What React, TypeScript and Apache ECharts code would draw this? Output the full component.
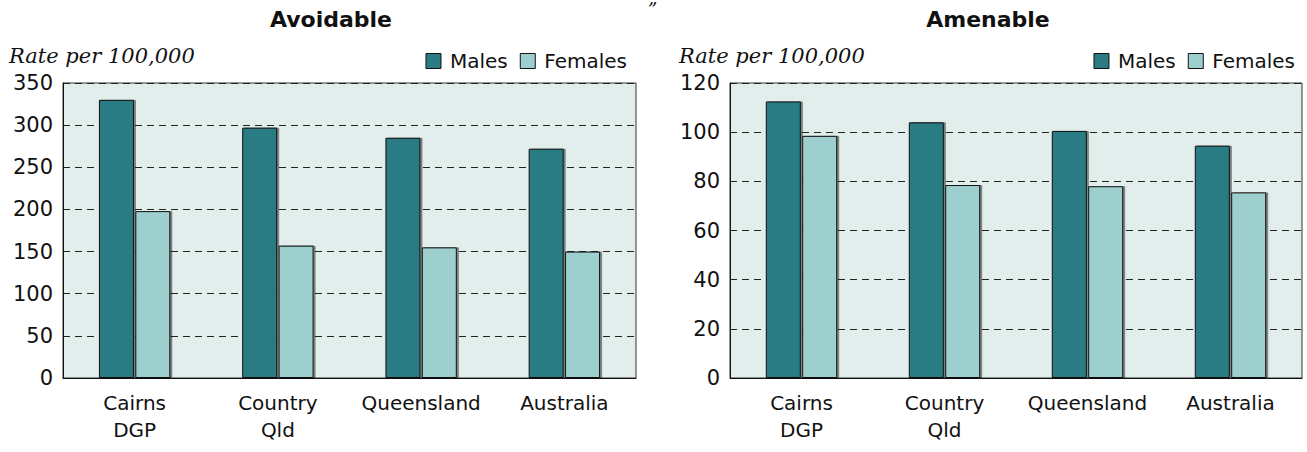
import React, { useEffect, useRef } from "react";
import * as echarts from "echarts";

const categories = ["Cairns\nDGP", "Country\nQld", "Queensland", "Australia"];
const avoidableMales = [330, 297, 285, 272];
const avoidableFemales = [198, 157, 155, 150];
const amenableMales = [112.5, 104, 100.5, 94.5];
const amenableFemales = [98.5, 78.5, 78, 75.5];
const seriesNames = ["Males", "Females"];
const panelTitles = ["Avoidable", "Amenable"];
const yLabel = "Rate per 100,000";

const MALE = "#2a7b84";
const FEMALE = "#9ecfcf";
const BG = "#e1eeeb";
const FONT = "DejaVu Sans";

export default function App() {
  const ref = useRef<HTMLDivElement>(null);
  useEffect(() => {
    if (!ref.current) return;
    const chart = echarts.init(ref.current, null, { renderer: "svg" });
    const grids = [
      { left: 63, top: 83, width: 573, height: 295 },
      { left: 730, top: 83, width: 572, height: 295 },
    ];
    const yAxes = [
      { max: 350, interval: 50 },
      { max: 120, interval: 20 },
    ];
    const data = [
      [avoidableMales, avoidableFemales],
      [amenableMales, amenableFemales],
    ];
    const barStyle = (c: string) => ({
      color: c,
      borderColor: "#111",
      borderWidth: 1,
      shadowColor: "rgba(0,0,0,0.45)",
      shadowOffsetX: 2,
      shadowOffsetY: 0,
      shadowBlur: 0,
    });
    const series: any[] = [];
    data.forEach((d, gi) => {
      d.forEach((vals, si) => {
        series.push({
          type: "bar",
          name: seriesNames[si],
          xAxisIndex: gi,
          yAxisIndex: gi,
          data: vals,
          barWidth: 35,
          barGap: "4%",
          itemStyle: barStyle(si === 0 ? MALE : FEMALE),
        });
      });
    });
    const legendBase = {
      data: seriesNames.map((n, i) => ({
        name: n,
        itemStyle: { color: i === 0 ? MALE : FEMALE, borderColor: "#111", borderWidth: 1 },
      })),
      itemWidth: 15,
      itemHeight: 15,
      itemGap: 12,
      icon: "rect",
      textStyle: { fontFamily: FONT, fontSize: 20, color: "#111", padding: [0, 0, 0, 4] },
      top: 46,
    };
    const titleStyle = { fontFamily: FONT, fontWeight: "bold", fontSize: 22, color: "#111" };
    chart.setOption({
      animation: false,
      textStyle: { fontFamily: FONT },
      title: [
        { text: panelTitles[0], left: 326, textAlign: "center", top: 3, textStyle: titleStyle },
        { text: panelTitles[1], left: 983, textAlign: "center", top: 3, textStyle: titleStyle },
      ],
      legend: [
        { ...legendBase, right: 675 },
        { ...legendBase, right: 7 },
      ],
      graphic: [
        { type: "text", left: 9, top: 45, style: { text: yLabel, font: `italic 21px "DejaVu Serif"`, fill: "#111" } },
        { type: "text", left: 679, top: 45, style: { text: yLabel, font: `italic 21px "DejaVu Serif"`, fill: "#111" } },
        { type: "text", left: 648, top: 0, style: { text: "\u201d", font: `italic 18px "DejaVu Serif"`, fill: "#111" } },
      ],
      grid: grids.map((g) => ({ ...g, show: true, backgroundColor: BG, borderColor: "#333", borderWidth: 1 })),
      xAxis: grids.map((_, i) => ({
        type: "category",
        gridIndex: i,
        data: categories,
        axisTick: { show: false },
        axisLine: { lineStyle: { color: "#111" } },
        axisLabel: { interval: 0, hideOverlap: false, fontFamily: FONT, fontSize: 20, color: "#111", lineHeight: 27, margin: 11 },
      })),
      yAxis: yAxes.map((y, i) => ({
        type: "value",
        gridIndex: i,
        min: 0,
        max: y.max,
        interval: y.interval,
        axisLine: { show: true, lineStyle: { color: "#111" } },
        axisTick: { show: false },
        axisLabel: { fontFamily: FONT, fontSize: 21, color: "#111", margin: 10 },
        splitLine: { lineStyle: { color: "#222", type: [7, 5], width: 1 } },
      })),
      series,
    });
    return () => chart.dispose();
  }, []);
  return <div ref={ref} style={{ position: "absolute", left: 0, top: 0, width: 1307, height: 452 }} />;
}
